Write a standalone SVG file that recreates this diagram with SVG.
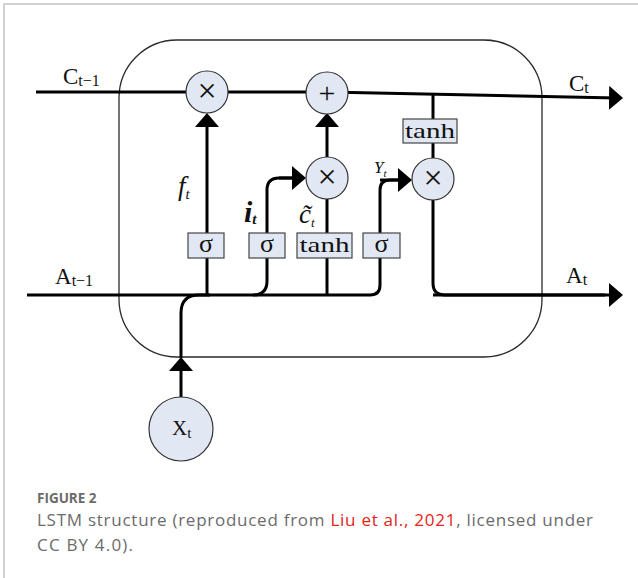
<svg xmlns="http://www.w3.org/2000/svg" width="638" height="578" viewBox="0 0 638 578">
<defs>
<style>
.frame{fill:none;stroke:#c4c4c4;stroke-width:1.5}
.cell{fill:none;stroke:#2a2a2a;stroke-width:1.3}
.wire{fill:none;stroke:#000;stroke-width:3}
.arr{fill:none;stroke:#000;stroke-width:3;marker-end:url(#ah)}
.op{fill:#e1e8f3;stroke:#333;stroke-width:1.2}
.box{fill:#e1e8f3;stroke:#444;stroke-width:1.2}
.sym{font-family:"Liberation Serif",serif;fill:#111;text-anchor:middle}
.lbl{font-family:"Liberation Serif",serif;fill:#111}
.it{font-family:"Liberation Serif",serif;font-style:italic;fill:#111}
.cap{font-family:"Open Sans","Liberation Sans",sans-serif;fill:#6b6b6b}
</style>
<marker id="ah" markerUnits="userSpaceOnUse" markerWidth="14" markerHeight="24" refX="8" refY="12" orient="auto">
<path d="M0,0 L14,12 L0,24 Z" fill="#000"/>
</marker>
</defs>
<rect width="638" height="578" fill="#fff"/>
<path class="frame" d="M4,578 V4 H638"/>

<g id="cell">
<rect class="cell" x="119" y="40" width="423" height="317" rx="58" ry="58"/>
</g>

<g id="connectors">
<path class="arr" d="M36,92 L327,92 L617,98"/>
<path class="wire" d="M27,295 H370 Q380,295 380,285 V190 Q380,180 390,180 H400"/>
<path class="arr" d="M380,180 H406"/>
<path class="arr" d="M207,295 V119"/>
<path class="wire" d="M253,295 Q267,295 267,281 V190 Q267,178 279,178 H294"/>
<path class="arr" d="M279,178 H300"/>
<path class="wire" d="M327,295 V199"/>
<path class="arr" d="M327,157 V119"/>
<path class="wire" d="M433,95 V158"/>
<path class="wire" d="M433,200 V283 Q433,295 445,295 H605"/>
<path class="arr" d="M433,295 H617"/>
<path class="arr" d="M181,397 V363"/>
<path class="wire" d="M181,358 V313 Q181,295 199,295 H210"/>
</g>

<g id="forget-mult"><circle class="op" cx="207" cy="92" r="21"/><text class="sym" x="207" y="102" font-size="34">×</text></g>
<g id="add"><circle class="op" cx="327" cy="93" r="21"/><text class="sym" x="327" y="103" font-size="30">+</text></g>
<g id="input-mult"><circle class="op" cx="327" cy="178" r="21"/><text class="sym" x="327" y="188" font-size="34">×</text></g>
<g id="output-mult"><circle class="op" cx="433" cy="179" r="21"/><text class="sym" x="433" y="189" font-size="34">×</text></g>

<g id="sigma-f"><rect class="box" x="188" y="233" width="36" height="25"/><text class="sym" x="206" y="252" font-size="26">σ</text></g>
<g id="sigma-i"><rect class="box" x="249" y="233" width="36" height="25"/><text class="sym" x="267" y="252" font-size="26">σ</text></g>
<g id="tanh-c"><rect class="box" x="297" y="233" width="55" height="25"/><text class="sym" x="324.5" y="252" font-size="21" textLength="50" lengthAdjust="spacingAndGlyphs">tanh</text></g>
<g id="sigma-o"><rect class="box" x="363" y="233" width="37" height="25"/><text class="sym" x="381.5" y="252" font-size="26">σ</text></g>
<g id="tanh-out"><rect class="box" x="403" y="119" width="54" height="24"/><text class="sym" x="430" y="138" font-size="21" textLength="50" lengthAdjust="spacingAndGlyphs">tanh</text></g>

<g id="xt"><circle class="op" cx="181" cy="429" r="32"/><text class="lbl" x="172" y="435" font-size="21">X<tspan font-size="15" dy="3">t</tspan></text></g>

<g id="labels">
<text class="lbl" x="63" y="84" font-size="23">C<tspan font-size="16" dy="2">t−1</tspan></text>
<text class="lbl" x="569" y="91" font-size="23">C<tspan font-size="16" dy="2">t</tspan></text>
<text class="lbl" x="55" y="284" font-size="23">A<tspan font-size="16" dy="2">t−1</tspan></text>
<text class="lbl" x="566" y="283" font-size="23">A<tspan font-size="16" dy="2">t</tspan></text>
<text class="it" x="178" y="195" font-size="27">f<tspan font-size="15" dy="4">t</tspan></text>
<text class="it" x="244" y="222" font-size="30" font-weight="bold">i<tspan font-size="15" dy="2">t</tspan></text>
<text class="it" x="299" y="223" font-size="27">c̃<tspan font-size="13" dy="4">t</tspan></text>
<text class="it" x="374" y="173" font-size="17">Y<tspan font-size="11" dy="4">t</tspan></text>
</g>

<g id="caption">
<text class="cap" x="37" y="503" font-size="13.5" font-weight="bold">FIGURE 2</text>
<text class="cap" x="37" y="526" font-size="17" textLength="556" lengthAdjust="spacing">LSTM structure (reproduced from <tspan fill="#e2231a">Liu et al., 2021</tspan>, licensed under</text>
<text class="cap" x="37" y="551" font-size="17" textLength="96" lengthAdjust="spacing">CC BY 4.0).</text>
</g>
</svg>
